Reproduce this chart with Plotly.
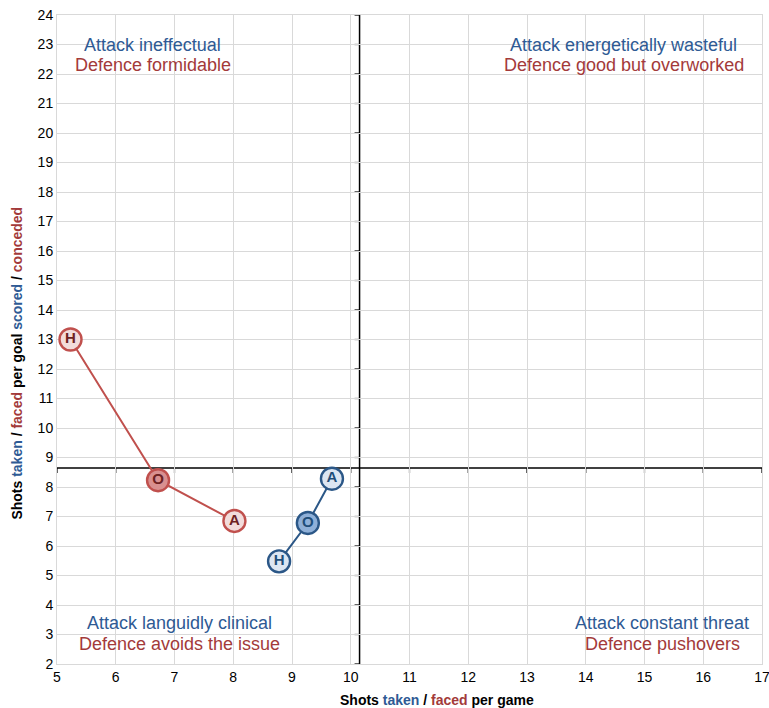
import plotly.graph_objects as go

# ---- data ----
labels = ["H", "O", "A"]
def_x = [5.23, 6.72, 8.02]      # shots faced per game
def_y = [13.0, 8.23, 6.85]      # shots faced per goal conceded
att_x = [8.78, 9.27, 9.68]      # shots taken per game
att_y = [5.48, 6.78, 8.28]      # shots taken per goal scored
x_cross = 10.15
y_cross = 8.64
x_ticks = list(range(5, 18))
y_ticks = list(range(2, 25))

quadrants = [
    ("Attack ineffectual", "Defence formidable", 6.63, 23.0, 22.32),
    ("Attack energetically wasteful", "Defence good but overworked", 14.65, 23.0, 22.32),
    ("Attack languidly clinical", "Defence avoids the issue", 7.09, 3.38, 2.67),
    ("Attack constant threat", "Defence pushovers", 15.3, 3.38, 2.67),
]

BLUE = "#2e5a94"
RED = "#a33a3a"
FONT = "Arial, Liberation Sans, sans-serif"

fig = go.Figure()

fig.add_trace(go.Scatter(
    x=def_x, y=def_y, text=labels, mode="lines+markers+text",
    textposition="middle center",
    line=dict(color="#c0504d", width=2),
    marker=dict(size=22, color=["#f2dcdb", "#d9908f", "#f2dcdb"],
                line=dict(color="#c0504d", width=2.4)),
    textfont=dict(family=FONT, size=15, color="#6e2222", weight="bold"),
    showlegend=False, hoverinfo="skip", cliponaxis=False,
))
fig.add_trace(go.Scatter(
    x=att_x, y=att_y, text=labels, mode="lines+markers+text",
    textposition="middle center",
    line=dict(color="#2b5787", width=2),
    marker=dict(size=22, color=["#dce6f2", "#8fb0d8", "#dce6f2"],
                line=dict(color="#2b5787", width=2.4)),
    textfont=dict(family=FONT, size=15, color="#1f4e79", weight="bold"),
    showlegend=False, hoverinfo="skip", cliponaxis=False,
))

shapes = [
    dict(type="line", xref="x", yref="y", x0=x_cross, x1=x_cross, y0=y_ticks[0], y1=y_ticks[-1],
         line=dict(color="black", width=1.5), layer="below"),
    dict(type="line", xref="x", yref="y", x0=x_ticks[0], x1=x_ticks[-1], y0=y_cross, y1=y_cross,
         line=dict(color="black", width=1.5), layer="below"),
]
for xv in x_ticks:
    shapes.append(dict(type="line", xref="x", yref="y", ysizemode="pixel", yanchor=y_cross,
                       x0=xv, x1=xv, y0=0, y1=-5, line=dict(color="black", width=1.2), layer="below"))
for yv in y_ticks:
    shapes.append(dict(type="line", xref="x", yref="y", xsizemode="pixel", xanchor=x_cross,
                       y0=yv, y1=yv, x0=0, x1=-5, line=dict(color="black", width=1.2), layer="below"))

annotations = []
for a, d, qx, qya, qyd in quadrants:
    annotations.append(dict(x=qx, y=qya, xref="x", yref="y", showarrow=False, text=a,
                            font=dict(family=FONT, size=18, color=BLUE)))
    annotations.append(dict(x=qx, y=qyd, xref="x", yref="y", showarrow=False, text=d,
                            font=dict(family=FONT, size=18, color=RED)))

annotations.append(dict(
    xref="paper", yref="paper", x=0.539, y=-0.056, yanchor="middle", xanchor="center",
    showarrow=False, font=dict(family=FONT, size=14, color="black"),
    text=f"<b>Shots <span style='color:{BLUE}'>taken</span> / <span style='color:{RED}'>faced</span> per game</b>",
))
annotations.append(dict(
    xref="paper", yref="paper", x=-0.058, y=0.463, yanchor="middle", xanchor="center",
    textangle=-90, showarrow=False, font=dict(family=FONT, size=14, color="black"),
    text=(f"<b>Shots <span style='color:{BLUE}'>taken</span> / <span style='color:{RED}'>faced</span> "
          f"per goal <span style='color:{BLUE}'>scored</span> / <span style='color:{RED}'>conceded</span></b>"),
))

fig.update_layout(
    width=769, height=708,
    margin=dict(l=57, r=7, t=15, b=44, autoexpand=False),
    paper_bgcolor="white", plot_bgcolor="white",
    font=dict(family=FONT, size=14, color="black"),
    shapes=shapes, annotations=annotations,
    xaxis=dict(range=[x_ticks[0], x_ticks[-1]], tickmode="array", tickvals=x_ticks,
               showgrid=True, gridcolor="#d9d9d9", gridwidth=1, zeroline=False,
               showline=True, linecolor="#d9d9d9", linewidth=1, mirror=True,
               ticks="", ticklen=0, ticklabeloverflow="allow", automargin=False,
               tickfont=dict(size=14, color="black")),
    yaxis=dict(range=[y_ticks[0], y_ticks[-1]], tickmode="array", tickvals=y_ticks,
               showgrid=True, gridcolor="#d9d9d9", gridwidth=1, zeroline=False,
               showline=True, linecolor="#d9d9d9", linewidth=1, mirror=True,
               ticks="", ticklen=0, ticklabeloverflow="allow", automargin=False,
               tickfont=dict(size=14, color="black")),
)

fig.write_html("out.html", config={"displayModeBar": False},
               post_script="document.body.style.margin='0';document.body.style.overflow='hidden';")
